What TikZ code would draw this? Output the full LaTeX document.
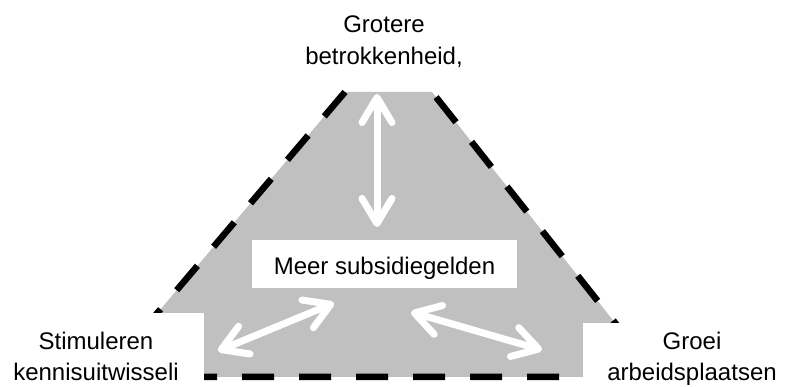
\documentclass[tikz,border=0pt]{standalone}
\usepackage{fontspec}
\setmainfont{Liberation Sans}
\usetikzlibrary{arrows.meta}
\definecolor{shapegray}{RGB}{192,192,192}
\tikzset{
  lbl/.style={anchor=base, inner sep=0pt, font=\fontsize{24}{30}\selectfont},
  whitebox/.style={fill=white, draw=none, inner sep=0pt},
  wharrow/.style={draw=white, line width=7pt, line cap=round, line join=round,
    {Straight Barb[length=25pt,width=30pt,round]}-{Straight Barb[length=25pt,width=30pt,round]}},
  dashedge/.style={draw=black, line width=6.5pt, dash pattern=on 32pt off 25pt}
}
\begin{document}
\begin{tikzpicture}[x=1pt,y=-1pt]
\useasboundingbox (0,0) rectangle (785,387);
% shape corners
\coordinate (tl) at (345,92);
\coordinate (tr) at (432,92);
\coordinate (br) at (658,377);
\coordinate (bl) at (103,377);
\fill[shapegray] (tl) -- (tr) -- (br) -- (bl) -- cycle;
\draw[dashedge] (tl) -- (bl) -- (br) -- (tr);
% top label
\node[lbl] (top1) at (384,33) {Grotere};
\node[lbl] (top2) at (384,65) {betrokkenheid,};
% left label box
\node[whitebox, anchor=north west, minimum width=204pt, minimum height=74pt] (stimbox) at (0,313) {};
\node[lbl] (stim1) at (96,350) {Stimuleren};
\node[lbl] (stim2) at (96,381) {kennisuitwisseli};
% right label box
\node[whitebox, anchor=north west, minimum width=202pt, minimum height=64pt] (groeibox) at (583,323) {};
\node[lbl] (groei1) at (692,350) {Groei};
\node[lbl] (groei2) at (692,381) {arbeidsplaatsen};
% arrows
\coordinate (vtop) at (377,94);
\coordinate (vbot) at (377,227);
\coordinate (lbot) at (218,351);
\coordinate (ltop) at (334,303);
\coordinate (rtop) at (411,312);
\coordinate (rbot) at (542,350);
\draw[wharrow] (vtop) -- (vbot);
\draw[wharrow] (lbot) -- (ltop);
\draw[wharrow] (rtop) -- (rbot);
% centre box
\node[whitebox, minimum width=265pt, minimum height=48pt] (meerbox) at (384.5,264) {};
\begin{scope}
\clip (252,240) rectangle (517,279);
\node[lbl] (meer) at (384.5,275) {Meer subsidiegelden};
\end{scope}
\end{tikzpicture}
\end{document}
